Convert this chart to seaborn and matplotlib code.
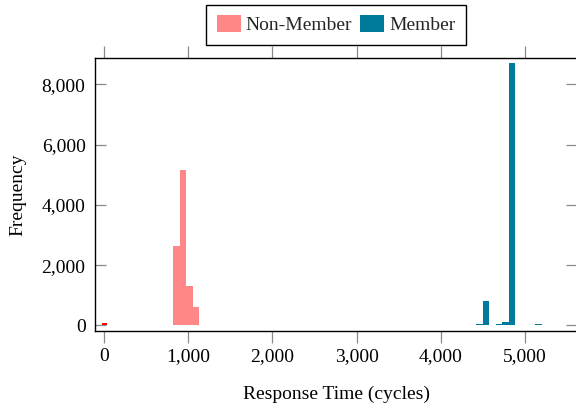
import matplotlib
matplotlib.use("Agg")
import numpy as np
import pandas as pd
import seaborn as sns
import matplotlib.pyplot as plt
from matplotlib.ticker import FuncFormatter

# ---- data ----
nonmember_edges = [818, 896, 974, 1052, 1130, 1208, 1286, 1364]
nonmember_counts = [2635, 5160, 1306, 618, 0, 0, 5]

member_edges = [4032, 4110, 4188, 4266, 4344, 4422, 4500, 4578, 4656, 4734,
                4812, 4890, 4968, 5046, 5124, 5202]
member_counts = [2, 2, 4, 8, 15, 30, 817, 0, 60, 100, 8704, 20, 8, 0, 40]

zero_edges = [-31, 29]
zero_counts = [70]

x_ticks = [0, 1000, 2000, 3000, 4000, 5000]
y_ticks = [0, 2000, 4000, 6000, 8000]
labels = ["Non-Member", "Member"]

# ---- style ----
sns.set_theme(style="white")
plt.rcParams["font.family"] = ["Liberation Serif", "DejaVu Serif"]
FS = 14

fig = plt.figure(figsize=(5.76, 4.08), dpi=100)
ax = fig.add_axes([95.3 / 576, 1 - 330.7 / 408, (576.8 - 95.3) / 576, (330.7 - 58.3) / 408])


def centers(edges):
    e = np.asarray(edges, dtype=float)
    return (e[:-1] + e[1:]) / 2


sns.histplot(x=centers(nonmember_edges), weights=nonmember_counts, bins=nonmember_edges,
             color="#FF8787", alpha=1, linewidth=0, label=labels[0], ax=ax)
sns.histplot(x=centers(member_edges), weights=member_counts, bins=member_edges,
             color="#007A9A", alpha=1, linewidth=0, label=labels[1], ax=ax)
sns.histplot(x=centers(zero_edges), weights=zero_counts, bins=zero_edges,
             color="#FF0000", alpha=1, linewidth=0, ax=ax)

ax.set_xlim(-107, 5620)
ax.set_ylim(-179, 8870)
ax.set_xticks(x_ticks)
ax.set_yticks(y_ticks)
fmt = FuncFormatter(lambda v, p: f"{int(round(v)):,}")
ax.xaxis.set_major_formatter(fmt)
ax.yaxis.set_major_formatter(fmt)

ax.tick_params(axis="x", direction="out", length=8.5, width=0.9, color="#8a8a8a",
               top=True, bottom=True, labeltop=False, labelsize=FS, pad=4, labelcolor="black")
ax.tick_params(axis="y", direction="in", length=8, width=0.9, color="#8a8a8a",
               left=True, right=True, labelright=False, labelsize=FS, pad=7, labelcolor="black")

for s in ax.spines.values():
    s.set_visible(True)
    s.set_color("black")
    s.set_linewidth(1.0)

ax.set_xlabel("Response Time (cycles)", fontsize=FS, color="black", labelpad=15)
ax.set_ylabel("Frequency", fontsize=FS, color="black", labelpad=11)

leg = ax.legend(loc="lower center", bbox_to_anchor=(0.5, 1.05), ncol=2, fontsize=FS,
                frameon=True, fancybox=False, edgecolor="black", handlelength=1.23,
                handleheight=0.95, handletextpad=0.26, columnspacing=0.41, borderpad=0.54,
                borderaxespad=0)
leg.get_frame().set_linewidth(1.0)
leg.get_frame().set_alpha(1)

fig.savefig("out.png", dpi=100)
